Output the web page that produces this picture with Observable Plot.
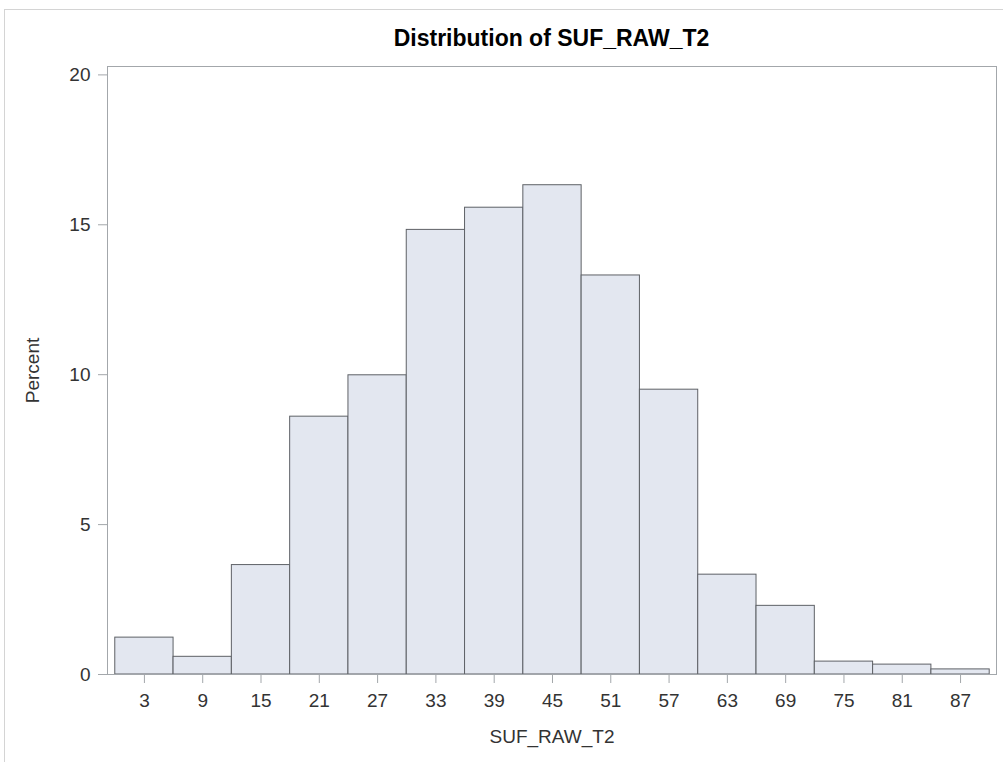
<!DOCTYPE html>
<html>
<head>
<meta charset="utf-8">
<script src="https://cdn.jsdelivr.net/npm/d3@7"></script>
<script src="https://cdn.jsdelivr.net/npm/@observablehq/plot@0.6"></script>
<style>
  body { margin: 0; background: #fff; font-family: "Liberation Sans", Arial, sans-serif; }
  #wrap { position: relative; width: 1003px; height: 762px; overflow: hidden; background: #fff; }
  #border { position: absolute; left: 4px; top: 9px; right: -10px; bottom: -10px;
            border-left: 1px solid #d4d4d4; border-top: 1px solid #d4d4d4; pointer-events: none; }
  #title { height: 58px; box-sizing: border-box; padding: 27px 7px 0 107px; line-height: 1;
           font-size: 23px; font-weight: bold; text-align: center; color: #000; }
  svg { display: block; }
</style>
</head>
<body>
<div id="wrap">
  <div id="title"></div>
  <div id="chart"></div>
  <div id="border"></div>
</div>
<script>
const chartTitle = "Distribution of SUF_RAW_T2";
const xLabel = "SUF_RAW_T2";
const yLabel = "Percent";
const binMidpoints = [3, 9, 15, 21, 27, 33, 39, 45, 51, 57, 63, 69, 75, 81, 87];
const percents = [1.23, 0.59, 3.65, 8.6, 9.98, 14.83, 15.57, 16.32, 13.31, 9.5, 3.33, 2.29, 0.43, 0.33, 0.17];
const binWidth = 6;
const xTicks = [3, 9, 15, 21, 27, 33, 39, 45, 51, 57, 63, 69, 75, 81, 87];
const yTicks = [0, 5, 10, 15, 20];

document.getElementById("title").textContent = chartTitle;

const bins = binMidpoints.map((m, i) => ({x1: m - binWidth / 2, x2: m + binWidth / 2, pct: percents[i]}));

const axisColor = "#a3a7ab";
const plot = Plot.plot({
  width: 1003,
  height: 704,
  marginTop: 8,
  marginBottom: 88,
  marginLeft: 107,
  marginRight: 7,
  style: {fontFamily: "Liberation Sans, Arial, sans-serif", background: "#fff", color: "#333"},
  x: {domain: [-0.8, 90.7]},
  y: {domain: [0, 20.28]},
  marks: [
    Plot.rectY(bins, {x1: "x1", x2: "x2", y1: 0, y2: "pct", fill: "#e3e7f0", stroke: "#5e6166", strokeWidth: 1, inset: 0}),
    Plot.frame({stroke: axisColor, strokeWidth: 1}),
    Plot.axisY({ticks: yTicks, tickSize: 9, tickPadding: 8, fontSize: 19, stroke: axisColor, color: "#333",
      label: yLabel, labelAnchor: "center", labelOffset: 82, labelArrow: "none", tickFormat: d => String(d)}),
    Plot.axisX({ticks: xTicks, tickSize: 9, tickPadding: 10, fontSize: 19, stroke: axisColor, color: "#333",
      label: xLabel, labelAnchor: "center", labelOffset: 68, labelArrow: "none", tickFormat: d => String(d)})
  ]
});
document.getElementById("chart").appendChild(plot);
</script>
</body>
</html>
